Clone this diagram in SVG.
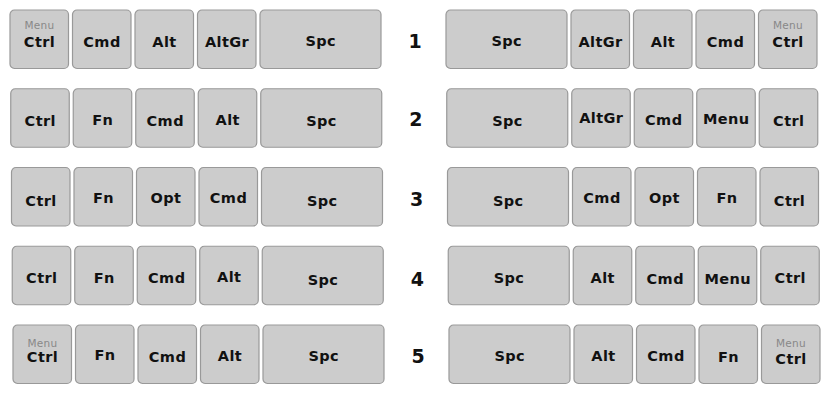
<svg xmlns="http://www.w3.org/2000/svg" width="835" height="400" viewBox="0 0 835 400">
<style>
.k{fill:#cccccc;stroke:#999999;stroke-width:1.2}
.t{font-family:"DejaVu Sans",sans-serif;font-weight:bold;font-size:14.5px;letter-spacing:0.4px;fill:#111;text-anchor:middle}
.m{font-family:"DejaVu Sans",sans-serif;font-size:10.5px;letter-spacing:0.3px;fill:#888;text-anchor:middle}
.n{font-family:"DejaVu Sans",sans-serif;font-weight:bold;font-size:19px;fill:#111;text-anchor:middle}
</style>
<rect width="835" height="400" fill="#ffffff"/>
<defs>
<rect id="key" class="k" width="58.5" height="58.5" rx="4.5"/>
<rect id="spc" class="k" width="121" height="58.5" rx="4.5"/>
</defs>
<g id="row1" transform="translate(0,10)">
<g id="r1-l1"><use href="#key" x="10"/><text class="m" x="39.5" y="19">Menu</text><text class="t" x="39.5" y="36.5">Ctrl</text></g>
<g id="r1-l2"><use href="#key" x="72.5"/><text class="t" x="102" y="36.5">Cmd</text></g>
<g id="r1-l3"><use href="#key" x="135"/><text class="t" x="164.5" y="36.5">Alt</text></g>
<g id="r1-l4"><use href="#key" x="197.5"/><text class="t" x="227" y="36.5">AltGr</text></g>
<g id="r1-l5"><use href="#spc" x="260"/><text class="t" x="320.7" y="36">Spc</text></g>
<g id="r1-num"><text class="n" x="415" y="38.3">1</text></g>
<g id="r1-r1"><use href="#spc" x="446"/><text class="t" x="506.7" y="36">Spc</text></g>
<g id="r1-r2"><use href="#key" x="571"/><text class="t" x="600.5" y="36.5">AltGr</text></g>
<g id="r1-r3"><use href="#key" x="633.5"/><text class="t" x="663" y="36.5">Alt</text></g>
<g id="r1-r4"><use href="#key" x="696"/><text class="t" x="725.5" y="36.5">Cmd</text></g>
<g id="r1-r5"><use href="#key" x="758.5"/><text class="m" x="788" y="19">Menu</text><text class="t" x="788" y="36.5">Ctrl</text></g>
</g>
<g id="row2" transform="translate(0.75,88.75)">
<g id="r2-l1"><use href="#key" x="10"/><text class="t" x="39.5" y="36.8">Ctrl</text></g>
<g id="r2-l2"><use href="#key" x="72.5"/><text class="t" x="102" y="36.3">Fn</text></g>
<g id="r2-l3"><use href="#key" x="135"/><text class="t" x="164.5" y="36.8">Cmd</text></g>
<g id="r2-l4"><use href="#key" x="197.5"/><text class="t" x="227" y="36.3">Alt</text></g>
<g id="r2-l5"><use href="#spc" x="260"/><text class="t" x="320.7" y="36.8">Spc</text></g>
<g id="r2-num"><text class="n" x="415" y="37">2</text></g>
<g id="r2-r1"><use href="#spc" x="446"/><text class="t" x="506.7" y="36.8">Spc</text></g>
<g id="r2-r2"><use href="#key" x="571"/><text class="t" x="600.5" y="34.6">AltGr</text></g>
<g id="r2-r3"><use href="#key" x="633.5"/><text class="t" x="663" y="36.3">Cmd</text></g>
<g id="r2-r4"><use href="#key" x="696"/><text class="t" x="725.5" y="35.3">Menu</text></g>
<g id="r2-r5"><use href="#key" x="758.5"/><text class="t" x="788" y="37">Ctrl</text></g>
</g>
<g id="row3" transform="translate(1.5,167.5)">
<g id="r3-l1"><use href="#key" x="10"/><text class="t" x="39.5" y="38.2">Ctrl</text></g>
<g id="r3-l2"><use href="#key" x="72.5"/><text class="t" x="102" y="35.2">Fn</text></g>
<g id="r3-l3"><use href="#key" x="135"/><text class="t" x="164.5" y="35.8">Opt</text></g>
<g id="r3-l4"><use href="#key" x="197.5"/><text class="t" x="227" y="35.2">Cmd</text></g>
<g id="r3-l5"><use href="#spc" x="260"/><text class="t" x="320.7" y="38.2">Spc</text></g>
<g id="r3-num"><text class="n" x="415" y="38.2">3</text></g>
<g id="r3-r1"><use href="#spc" x="446"/><text class="t" x="506.7" y="38.2">Spc</text></g>
<g id="r3-r2"><use href="#key" x="571"/><text class="t" x="600.5" y="35.8">Cmd</text></g>
<g id="r3-r3"><use href="#key" x="633.5"/><text class="t" x="663" y="35.8">Opt</text></g>
<g id="r3-r4"><use href="#key" x="696"/><text class="t" x="725.5" y="35.8">Fn</text></g>
<g id="r3-r5"><use href="#key" x="758.5"/><text class="t" x="788" y="38.2">Ctrl</text></g>
</g>
<g id="row4" transform="translate(2.25,246.25)">
<g id="r4-l1"><use href="#key" x="10"/><text class="t" x="39.5" y="37">Ctrl</text></g>
<g id="r4-l2"><use href="#key" x="72.5"/><text class="t" x="102" y="36.4">Fn</text></g>
<g id="r4-l3"><use href="#key" x="135"/><text class="t" x="164.5" y="36.4">Cmd</text></g>
<g id="r4-l4"><use href="#key" x="197.5"/><text class="t" x="227" y="35.4">Alt</text></g>
<g id="r4-l5"><use href="#spc" x="260"/><text class="t" x="320.7" y="38.7">Spc</text></g>
<g id="r4-num"><text class="n" x="415" y="39.4">4</text></g>
<g id="r4-r1"><use href="#spc" x="446"/><text class="t" x="506.7" y="36.4">Spc</text></g>
<g id="r4-r2"><use href="#key" x="571"/><text class="t" x="600.5" y="36.4">Alt</text></g>
<g id="r4-r3"><use href="#key" x="633.5"/><text class="t" x="663" y="38">Cmd</text></g>
<g id="r4-r4"><use href="#key" x="696"/><text class="t" x="725.5" y="38">Menu</text></g>
<g id="r4-r5"><use href="#key" x="758.5"/><text class="t" x="788" y="37">Ctrl</text></g>
</g>
<g id="row5" transform="translate(3,325)">
<g id="r5-l1"><use href="#key" x="10"/><text class="m" x="39.5" y="21.7">Menu</text><text class="t" x="39.5" y="37.3">Ctrl</text></g>
<g id="r5-l2"><use href="#key" x="72.5"/><text class="t" x="102" y="35">Fn</text></g>
<g id="r5-l3"><use href="#key" x="135"/><text class="t" x="164.5" y="36.7">Cmd</text></g>
<g id="r5-l4"><use href="#key" x="197.5"/><text class="t" x="227" y="35.7">Alt</text></g>
<g id="r5-l5"><use href="#spc" x="260"/><text class="t" x="320.7" y="35.5">Spc</text></g>
<g id="r5-num"><text class="n" x="415" y="38">5</text></g>
<g id="r5-r1"><use href="#spc" x="446"/><text class="t" x="506.7" y="35.5">Spc</text></g>
<g id="r5-r2"><use href="#key" x="571"/><text class="t" x="600.5" y="35.7">Alt</text></g>
<g id="r5-r3"><use href="#key" x="633.5"/><text class="t" x="663" y="35.7">Cmd</text></g>
<g id="r5-r4"><use href="#key" x="696"/><text class="t" x="725.5" y="36.7">Fn</text></g>
<g id="r5-r5"><use href="#key" x="758.5"/><text class="m" x="788" y="22.3">Menu</text><text class="t" x="788" y="39">Ctrl</text></g>
</g>
<g id="connectors"></g>
</svg>
